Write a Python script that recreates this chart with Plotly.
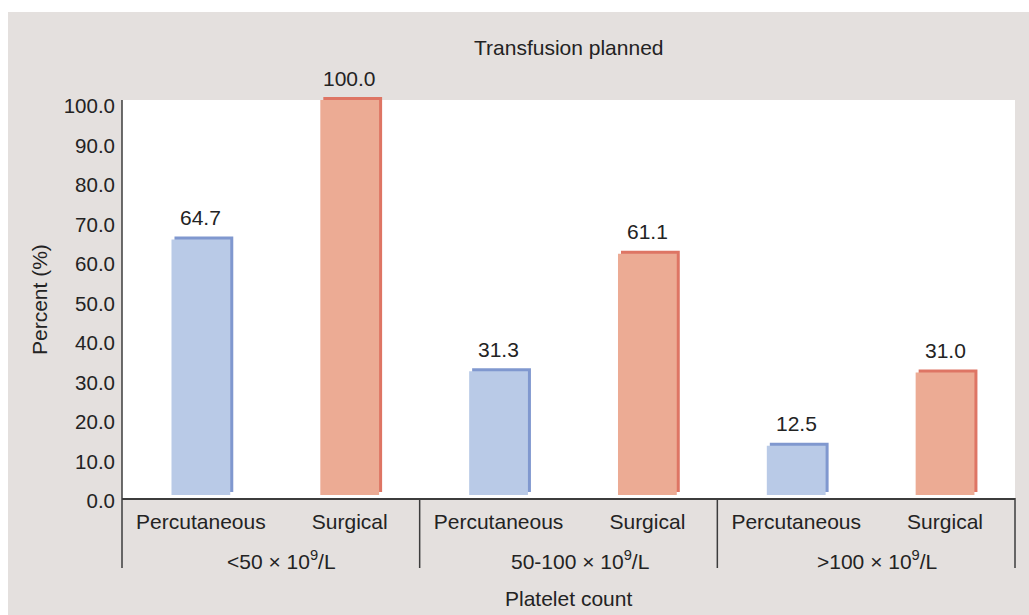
import plotly.graph_objects as go

# ---- data ----
groups = ["&lt;50 × 10<sup>9</sup>/L", "50-100 × 10<sup>9</sup>/L", "&gt;100 × 10<sup>9</sup>/L"]
approaches = ["Percutaneous", "Surgical"]
percutaneous = [64.7, 31.3, 12.5]
surgical = [100.0, 61.1, 31.0]
y_ticks = [0, 10, 20, 30, 40, 50, 60, 70, 80, 90, 100]

# ---- layout geometry (pixels) ----
W, H = 1029, 615
L, R, T, B = 122, 14, 96, 117
plot_w = W - L - R
plot_h = H - T - B
px_per_unit = 3.95
depth_px = 3                      # pseudo-3D depth of each bar
x_unit_px = plot_w / 6.0

y_min = -depth_px / px_per_unit
y_max = y_min + plot_h / px_per_unit

bar_w = 0.395
front_shift = 0.03
depth_x = depth_px / x_unit_px
depth_y = depth_px / px_per_unit

FONT = "Liberation Sans, Arial, sans-serif"
FS = 21
TXT = "#232323"
LINE = "#3c3c3c"
BG = "#e4e0de"

series = [
    (approaches[0], percutaneous, "#b9cae7", "#8098cf"),
    (approaches[1], surgical, "#ecab94", "#de7564"),
]

fig = go.Figure()
annotations = []

for s, (name, vals, face, edge) in enumerate(series):
    xs = [2 * g + s for g in range(len(vals))]
    # darker back face gives the top and side edges
    fig.add_trace(go.Bar(
        x=xs, y=vals, base=depth_y, width=bar_w,
        offset=front_shift - bar_w / 2 + depth_x,
        marker=dict(color=edge, line=dict(width=0)),
        showlegend=False, hoverinfo="skip",
    ))
    fig.add_trace(go.Bar(
        x=xs, y=vals, width=bar_w,
        offset=front_shift - bar_w / 2,
        marker=dict(color=face, line=dict(width=0)),
        name=name, showlegend=False,
    ))
    for x, v in zip(xs, vals):
        annotations.append(dict(
            x=x + front_shift, y=v, xref="x", yref="y",
            text=f"{v:.1f}", showarrow=False,
            yanchor="middle", yshift=22,
            font=dict(family=FONT, size=FS, color=TXT),
        ))

# group labels under the category labels
for g, label in enumerate(groups):
    annotations.append(dict(
        x=2 * g + 0.5, y=0, xref="x", yref="paper",
        text=label, showarrow=False, yanchor="middle",
        xshift=11, yshift=-62,
        font=dict(family=FONT, size=FS, color=TXT),
    ))

axis_bottom_px = H - B
annotations += [
    dict(x=0.5, y=1, xref="paper", yref="paper", text="Transfusion planned",
         showarrow=False, yanchor="middle", yshift=T - 47,
         font=dict(family=FONT, size=FS, color=TXT)),
    dict(x=0.5, y=0, xref="paper", yref="paper", text="Platelet count",
         showarrow=False, yanchor="middle", yshift=-(598 - axis_bottom_px),
         font=dict(family=FONT, size=FS, color=TXT)),
    dict(x=0, y=(axis_bottom_px - 300) / plot_h, xref="paper", yref="paper",
         text="Percent (%)", textangle=-90, showarrow=False,
         xanchor="center", yanchor="middle", xshift=-(L - 39),
         font=dict(family=FONT, size=FS, color=TXT)),
]

low = -(568 - axis_bottom_px) / plot_h
top100 = (100 - y_min) / (y_max - y_min)
shapes = [
    # grey panel behind everything
    dict(type="rect", xref="paper", yref="paper", layer="below",
         x0=(8 - L) / plot_w, x1=(W - L) / plot_w + 0.05,
         y0=-(H - axis_bottom_px) / plot_h - 0.05,
         y1=(axis_bottom_px - 12) / plot_h,
         fillcolor=BG, line=dict(width=0)),
    # white plotting panel up to 100 %
    dict(type="rect", xref="paper", yref="y", layer="below",
         x0=0, x1=1, y0=y_min, y1=100,
         fillcolor="white", line=dict(width=0)),
    # y-axis line, continued down through the category rows
    dict(type="line", xref="paper", yref="paper", x0=0, x1=0,
         y0=low, y1=top100, line=dict(color=LINE, width=1.5)),
]
for k in (1, 2, 3):
    shapes.append(dict(type="line", xref="paper", yref="paper",
                       x0=k / 3, x1=k / 3, y0=low, y1=0,
                       line=dict(color=LINE, width=1.5)))

fig.update_layout(
    width=W, height=H,
    margin=dict(l=L, r=R, t=T, b=B, pad=0),
    paper_bgcolor="white",
    plot_bgcolor="rgba(0,0,0,0)",
    barmode="overlay",
    showlegend=False,
    font=dict(family=FONT, size=FS, color=TXT),
    shapes=shapes,
    annotations=annotations,
    xaxis=dict(
        range=[-0.5, 5.5], showgrid=False, zeroline=False,
        tickmode="array",
        tickvals=[i + front_shift for i in range(6)],
        ticktext=approaches * 3,
        ticks="", ticklabelstandoff=4,
        showline=True, linecolor=LINE, linewidth=1.5,
        tickfont=dict(family=FONT, size=FS, color=TXT),
        fixedrange=True,
    ),
    yaxis=dict(
        range=[y_min, y_max], showgrid=False, zeroline=False,
        tickmode="array", tickvals=y_ticks,
        ticktext=[f"{v:.1f}" for v in y_ticks],
        ticks="", ticklabelstandoff=6, ticklabelshift=6,
        showline=False,
        tickfont=dict(family=FONT, size=20.5, color=TXT),
        fixedrange=True,
    ),
)

fig.write_html("out.html")
